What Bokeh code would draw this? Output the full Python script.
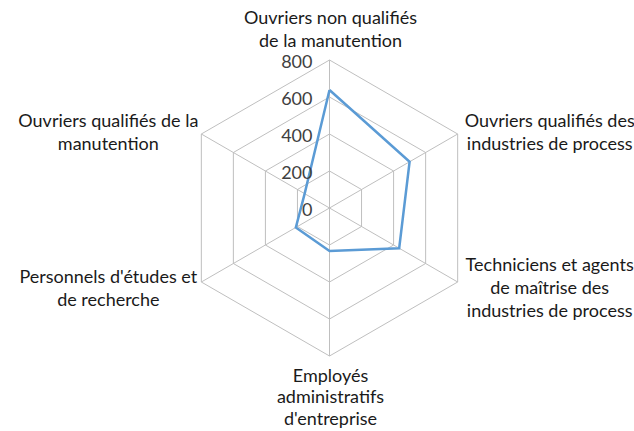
import numpy as np
from bokeh.plotting import figure
from bokeh.models import Range1d, ColumnDataSource
from bokeh.core.properties import value
from bokeh.embed import file_html
from bokeh.resources import INLINE

# ---- data ----
categories = [
    ["Ouvriers non qualifiés", "de la manutention"],
    ["Ouvriers qualifiés des", "industries de process"],
    ["Techniciens et agents", "de maîtrise des", "industries de process"],
    ["Employés", "administratifs", "d'entreprise"],
    ["Personnels d'études et", "de recherche"],
    ["Ouvriers qualifiés de la", "manutention"],
]
values = [638, 500, 435, 232, 210, 155]
ticks = [0, 200, 400, 600, 800]
r_max = 800

# ---- geometry (styling) ----
px_per_unit = 148 / 800.0
cx_px, cy_px = 329, 207.5
W, H = 634, 431
x0 = (0 - cx_px) / px_per_unit
x1 = (W - cx_px) / px_per_unit
y1 = (cy_px - 0) / px_per_unit
y0 = (cy_px - H) / px_per_unit

n = len(values)
angles = np.pi / 2 - np.arange(n) * 2 * np.pi / n

p = figure(width=W, height=H, output_backend="svg", toolbar_location=None,
           x_range=Range1d(x0, x1), y_range=Range1d(y0, y1), min_border=0)
p.axis.visible = False
p.grid.visible = False
p.outline_line_color = None
p.background_fill_color = "white"
p.border_fill_color = "white"

grid_color = "#BFBFBF"
# rings
for t in ticks[1:]:
    xs = list(t * np.cos(angles)) + [t * np.cos(angles[0])]
    ys = list(t * np.sin(angles)) + [t * np.sin(angles[0])]
    p.line(xs, ys, line_color=grid_color, line_width=1)
# spokes
p.segment(x0=[0] * n, y0=[0] * n, x1=list(r_max * np.cos(angles)),
          y1=list(r_max * np.sin(angles)), line_color=grid_color, line_width=1)

# data line
vx = [v * np.cos(a) for v, a in zip(values, angles)]
vy = [v * np.sin(a) for v, a in zip(values, angles)]
p.line(vx + [vx[0]], vy + [vy[0]], line_color="#5B9BD5", line_width=2.5,
       line_join="miter")

# tick labels
p.text(x=[0] * len(ticks), y=ticks, text=[str(t) for t in ticks],
       text_align="right", text_baseline="middle", x_offset=-17, y_offset=1,
       text_font=value("Lato"), text_font_size="18px", text_color="#404040")

# category labels: offsets from vertex in px
label_dx = [1, 92, 92, 1, -93, -93]
label_dy0 = [-43, -14, -18.5, 18.5, -6.5, -14.5]
label_lh = [23, 23, 23, 21.5, 23, 23]
lx, ly, lt, lxo, lyo = [], [], [], [], []
for i, lines in enumerate(categories):
    vxp = r_max * np.cos(angles[i])
    vyp = r_max * np.sin(angles[i])
    for j, s in enumerate(lines):
        lx.append(vxp)
        ly.append(vyp)
        lt.append(s)
        lxo.append(label_dx[i])
        lyo.append(label_dy0[i] + j * label_lh[i])
src = ColumnDataSource(dict(x=lx, y=ly, text=lt, xo=lxo, yo=lyo))
p.text(x="x", y="y", text="text", x_offset="xo", y_offset="yo", source=src,
       text_align="center", text_baseline="middle",
       text_font=value("Lato"), text_font_size="18px", text_color="#1A1A1A")

open("out.html", "w").write(file_html(p, INLINE))
